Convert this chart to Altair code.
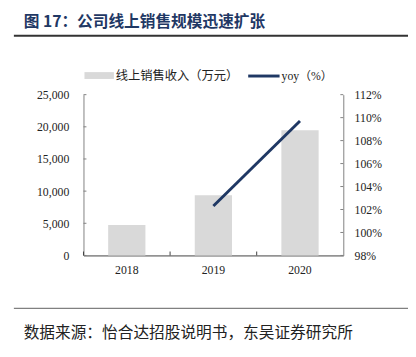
import altair as alt
import pandas as pd

# ---- data ----
years = ["2018", "2019", "2020"]
revenue = [4750, 9340, 19450]          # 线上销售收入（万元）
yoy = [None, 1.023, 1.097]             # yoy

left_ticks = [0, 5000, 10000, 15000, 20000, 25000]
right_ticks = [0.98, 1.00, 1.02, 1.04, 1.06, 1.08, 1.10, 1.12]

title_text = "图 17：公司线上销售规模迅速扩张"
legend_bar = "线上销售收入（万元）"
legend_line = "yoy（%）"
source_text = "数据来源：怡合达招股说明书，东吴证券研究所"

W, H = 265, 164
SERIF = "Liberation Serif, 'Noto Sans CJK SC'"
CJK = "'Noto Sans CJK SC'"

df = pd.DataFrame({"year": years, "revenue": revenue, "yoy": yoy})

x_axis = alt.Axis(title=None, labelAngle=0, tickSize=0, labelPadding=9,
                  domainColor="#404040", domainWidth=1, labelFont=SERIF,
                  labelFontSize=12, labelColor="#222222", grid=False)
x_scale = alt.Scale(paddingInner=0, paddingOuter=0)

left_scale = alt.Scale(domain=[0, 25000], nice=False, zero=True)
right_scale = alt.Scale(domain=[0.98, 1.12], nice=False, zero=False)

bars = alt.Chart(df).mark_bar(size=38, color="#d9d9d9").encode(
    x=alt.X("year:N", sort=years, scale=x_scale, axis=x_axis),
    y=alt.Y("revenue:Q", scale=left_scale,
            axis=alt.Axis(values=left_ticks, format=",.0f", title=None, tickSize=0,
                          labelPadding=15, domainColor="#808080", grid=False,
                          labelFont=SERIF, labelFontSize=12, labelColor="#222222")),
)

line = alt.Chart(df).transform_filter("datum.yoy != null").mark_line(
    color="#1f3864", strokeWidth=3).encode(
    x=alt.X("year:N", sort=years, scale=x_scale, axis=x_axis),
    y=alt.Y("yoy:Q", scale=right_scale,
            axis=alt.Axis(orient="right", values=right_ticks, format=".0%", title=None,
                          tickSize=0, labelPadding=11, domainColor="#808080", grid=False,
                          labelFont=SERIF, labelFontSize=12, labelColor="#222222")),
)

lt = alt.Chart(pd.DataFrame({"v": left_ticks})).mark_rule(color="#808080").encode(
    y=alt.Y("v:Q", scale=left_scale, axis=None),
    x=alt.value(0), x2=alt.value(3))

rt = alt.Chart(pd.DataFrame({"v": right_ticks})).mark_rule(color="#808080").encode(
    y=alt.Y("v:Q", scale=right_scale, axis=None),
    x=alt.value(W - 3), x2=alt.value(W))

xt = alt.Chart(pd.DataFrame({"year": years})).mark_rule(color="#404040").encode(
    x=alt.X("year:N", sort=years, scale=x_scale, axis=x_axis, bandPosition=0),
    y=alt.value(H - 4), y2=alt.value(H))

def txt(s, x, y, size, font, color="#222222", weight="normal"):
    return alt.Chart(pd.DataFrame({"t": [s]})).mark_text(
        align="left", baseline="middle", fontSize=size, font=font,
        color=color, fontWeight=weight).encode(
        text="t:N", x=alt.value(x), y=alt.value(y))

def hrule(x1, x2, y, color, width):
    return alt.Chart(pd.DataFrame({"a": [0]})).mark_rule(
        color=color, strokeWidth=width).encode(
        x=alt.value(x1), x2=alt.value(x2), y=alt.value(y))

title = txt(title_text, -61, -74, 16, CJK, color="#1f3864", weight="bold")
title_rule = hrule(-71, 331, -60, "#333333", 2)
leg_rect = alt.Chart(pd.DataFrame({"a": [0]})).mark_rect(color="#d9d9d9").encode(
    x=alt.value(1), x2=alt.value(31), y=alt.value(-23), y2=alt.value(-16))
leg_t1 = txt(legend_bar, 33, -19, 12.5, CJK)
leg_line = hrule(168, 200, -19, "#1f3864", 3)
leg_t2 = txt(legend_line, 202, -19, 12, SERIF)
foot_rule = hrule(-71, 331, 218, "#808080", 1.5)
foot = txt(source_text, -61, 243, 16, CJK)

chart = alt.layer(
    bars, line, lt, rt, xt,
    title, title_rule, leg_rect, leg_t1, leg_line, leg_t2, foot_rule, foot,
).resolve_scale(y="independent").properties(
    width=W, height=H,
    autosize=alt.AutoSizeParams(type="none"),
    padding={"left": 77, "top": 85, "right": 66, "bottom": 90},
).configure_view(stroke=None)

chart.save("out.html", embed_options={"renderer": "svg", "actions": False})
